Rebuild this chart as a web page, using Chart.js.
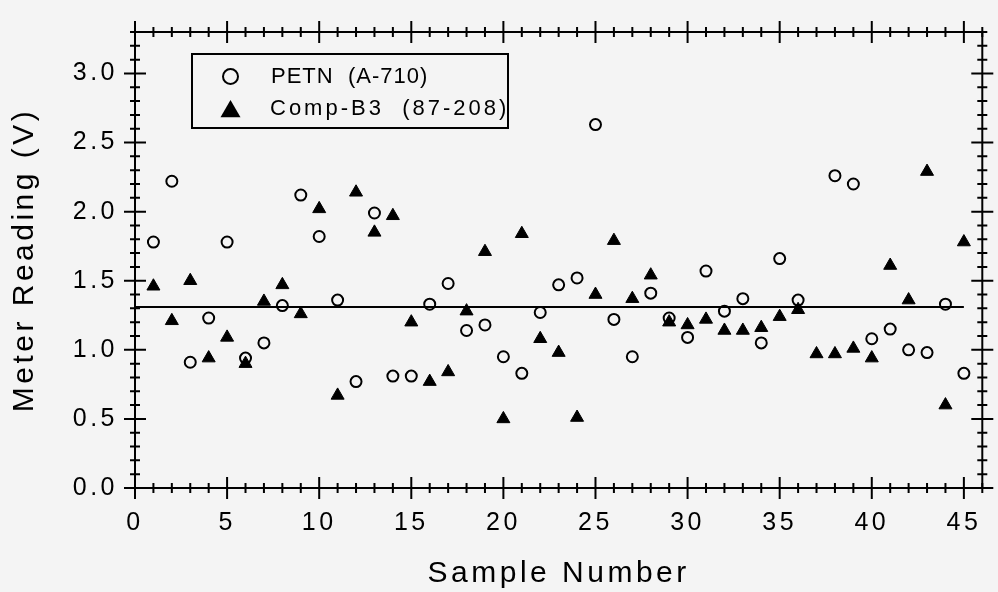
<!DOCTYPE html>
<html>
<head>
<meta charset="utf-8">
<script src="https://cdn.jsdelivr.net/npm/chart.js@4.4.1/dist/chart.umd.min.js"></script>
<style>
	html, body { margin: 0; padding: 0; background: #f4f4f4; }
</style>
</head>
<body>
<canvas id="mr-chart" width="998" height="592"></canvas>
<script>
var FONT = '"Liberation Sans", Arial, Helvetica, sans-serif';

var sampleNumbers = [1, 2, 3, 4, 5, 6, 7, 8, 9, 10, 11, 12, 13, 14, 15, 16, 17, 18, 19, 20, 21, 22, 23,
	24, 25, 26, 27, 28, 29, 30, 31, 32, 33, 34, 35, 36, 37, 38, 39, 40, 41, 42, 43, 44, 45];
// PETN (A-710), open circles; sample 37 has no reading
var petnReadings = [1.78, 2.22, 0.91, 1.23, 1.78, 0.94, 1.05, 1.32, 2.12, 1.82, 1.36, 0.77, 1.99, 0.81, 0.81,
	1.33, 1.48, 1.14, 1.18, 0.95, 0.83, 1.27, 1.47, 1.52, 2.63, 1.22, 0.95, 1.41, 1.23, 1.09,
	1.57, 1.28, 1.37, 1.05, 1.66, 1.36, null, 2.26, 2.20, 1.08, 1.15, 1.00, 0.98, 1.33, 0.83];
// Comp-B3 (87-208), filled triangles
var compB3Readings = [1.46, 1.21, 1.50, 0.94, 1.09, 0.90, 1.35, 1.47, 1.26, 2.02, 0.67, 2.14, 1.85, 1.97, 1.20,
	0.77, 0.84, 1.28, 1.71, 0.50, 1.84, 1.08, 0.98, 0.51, 1.40, 1.79, 1.37, 1.54, 1.20, 1.18,
	1.22, 1.14, 1.14, 1.16, 1.24, 1.29, 0.97, 0.97, 1.01, 0.94, 1.61, 1.36, 2.29, 0.60, 1.78];
var meanReading = 1.31;
var meanSpan = [0, 45];

var xMajorTicks = [0, 5, 10, 15, 20, 25, 30, 35, 40, 45];
var yMajorTicks = [0, 0.5, 1.0, 1.5, 2.0, 2.5, 3.0];
var xLimits = [0, 46];
var yLimits = [0, 3.3];

function toPoints(xs, ys) {
	var pts = [];
	xs.forEach(function (x, i) {
		if (ys[i] !== null) pts.push({ x: x, y: ys[i] });
	});
	return pts;
}

// background + letter spacing for the axis text
var bgPlugin = {
	id: 'bg',
	beforeDraw: function (chart) {
		var ctx = chart.ctx;
		ctx.save();
		ctx.fillStyle = '#f4f4f4';
		ctx.fillRect(0, 0, chart.width, chart.height);
		ctx.restore();
		ctx.letterSpacing = '3.5px';
	}
};

// boxed frame with major/minor ticks crossing all four sides, plus the legend box
var framePlugin = {
	id: 'frame',
	afterDraw: function (chart) {
		var ctx = chart.ctx, a = chart.chartArea;
		var xs = chart.scales.x, ys = chart.scales.y;
		ctx.save();
		ctx.letterSpacing = '0px';
		ctx.strokeStyle = '#000';
		ctx.lineWidth = 2;
		ctx.strokeRect(a.left, a.top, a.right - a.left, a.bottom - a.top);
		ctx.beginPath();
		var v, p, len;
		for (v = xLimits[0]; v <= xLimits[1]; v++) {
			p = xs.getPixelForValue(v);
			len = v % 5 === 0 ? 11 : 5;
			ctx.moveTo(p, a.bottom - len); ctx.lineTo(p, a.bottom + len);
			ctx.moveTo(p, a.top - len); ctx.lineTo(p, a.top + len);
		}
		for (v = 0; v <= Math.round(yLimits[1] * 10); v++) {
			p = ys.getPixelForValue(v / 10);
			len = v % 5 === 0 ? 11 : 5;
			ctx.moveTo(a.left - len, p); ctx.lineTo(a.left + len, p);
			ctx.moveTo(a.right - len, p); ctx.lineTo(a.right + len, p);
		}
		ctx.stroke();

		// legend
		ctx.strokeRect(192, 54, 316, 74);
		ctx.beginPath();
		ctx.arc(230.5, 76.5, 7.5, 0, Math.PI * 2);
		ctx.stroke();
		ctx.fillStyle = '#000';
		ctx.beginPath();
		ctx.moveTo(230.5, 100);
		ctx.lineTo(240.5, 117.3);
		ctx.lineTo(220.5, 117.3);
		ctx.closePath();
		ctx.fill();
		ctx.textAlign = 'left';
		ctx.textBaseline = 'middle';
		ctx.font = '22px ' + FONT;
		ctx.letterSpacing = '1px';
		ctx.fillText('PETN  (A-710)', 271, 77);
		ctx.letterSpacing = '3px';
		ctx.fillText('Comp-B3  (87-208)', 270, 109);
		ctx.restore();
	}
};

new Chart(document.getElementById('mr-chart'), {
	type: 'scatter',
	data: {
		datasets: [
			{
				label: 'mean',
				data: [{ x: meanSpan[0], y: meanReading }, { x: meanSpan[1], y: meanReading }],
				showLine: true,
				borderColor: '#000',
				borderWidth: 2,
				pointRadius: 0,
				order: 3
			},
			{
				label: 'PETN  (A-710)',
				data: toPoints(sampleNumbers, petnReadings),
				pointStyle: 'circle',
				pointRadius: 5.5,
				borderWidth: 2,
				borderColor: '#000',
				backgroundColor: 'rgba(0,0,0,0)',
				order: 2
			},
			{
				label: 'Comp-B3  (87-208)',
				data: toPoints(sampleNumbers, compB3Readings),
				pointStyle: 'triangle',
				pointRadius: 7.5,
				borderWidth: 1,
				borderColor: '#000',
				backgroundColor: '#000',
				order: 1
			}
		]
	},
	options: {
		responsive: false,
		animation: false,
		devicePixelRatio: 1,
		layout: { padding: { top: 25, right: 10, left: 0, bottom: 0 } },
		plugins: {
			legend: { display: false },
			tooltip: { enabled: false }
		},
		scales: {
			x: {
				type: 'linear',
				min: xLimits[0], max: xLimits[1],
				afterFit: function (s) { s.height = 104; },
				afterBuildTicks: function (s) { s.ticks = xMajorTicks.map(function (v) { return { value: v }; }); },
				grid: { display: false, drawTicks: false },
				border: { display: false },
				ticks: { color: '#000', padding: 20, autoSkip: false, maxRotation: 0, font: { family: FONT, size: 25 } },
				title: { display: true, text: 'Sample Number', color: '#000', padding: { top: 0, bottom: 0 }, font: { family: FONT, size: 30 } }
			},
			y: {
				type: 'linear',
				min: yLimits[0], max: yLimits[1],
				afterFit: function (s) { s.width = 135; },
				afterBuildTicks: function (s) { s.ticks = yMajorTicks.map(function (v) { return { value: v }; }); },
				grid: { display: false, drawTicks: false },
				border: { display: false },
				ticks: {
					color: '#000', padding: 17, font: { family: FONT, size: 25 },
					callback: function (v) { return v.toFixed(1); }
				},
				title: { display: true, text: 'Meter Reading (V)', color: '#000', padding: { top: 7, bottom: 0 }, font: { family: FONT, size: 30 } }
			}
		}
	},
	plugins: [bgPlugin, framePlugin]
});
</script>
</body>
</html>
